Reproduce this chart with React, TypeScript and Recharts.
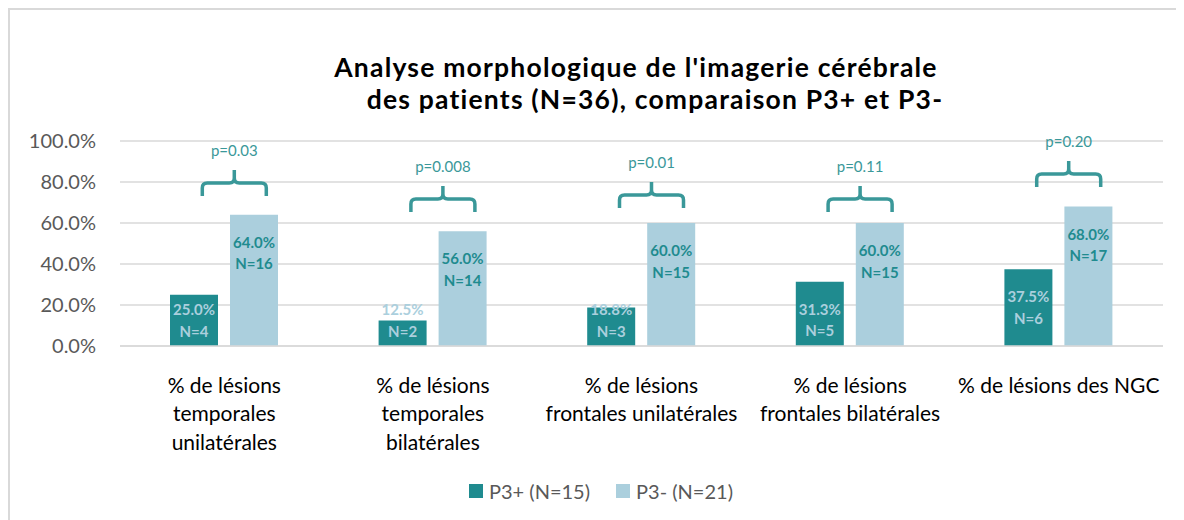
import React from 'react';
import { BarChart, Bar, XAxis, YAxis, CartesianGrid, Legend, LabelList, ReferenceDot } from 'recharts';

const categories = [
  '% de lésions\ntemporales\nunilatérales',
  '% de lésions\ntemporales\nbilatérales',
  '% de lésions\nfrontales unilatérales',
  '% de lésions\nfrontales bilatérales',
  '% de lésions des NGC',
];
const p3Plus = [25.0, 12.5, 18.8, 31.3, 37.5];
const p3Minus = [64.0, 56.0, 60.0, 60.0, 68.0];
const nPlus = [4, 2, 3, 5, 6];
const nMinus = [16, 14, 15, 15, 17];
const pValues = ['p=0.03', 'p=0.008', 'p=0.01', 'p=0.11', 'p=0.20'];
// level (in %) where each bracket's feet sit
const bracketLevels = [73.2, 65.4, 67.3, 65.4, 77.6];
const yTicks = [0, 20, 40, 60, 80, 100];

const DARK = '#1f8b8f';
const LIGHT = '#abcfdd';
const ACCENT = '#3a9899';
const FONT = 'Lato, "Noto Sans", sans-serif';

const data = categories.map((name, i) => ({
  name,
  plus: p3Plus[i],
  minus: p3Minus[i],
  level: bracketLevels[i],
  p: pValues[i],
}));

const makeLabel = (color: string, counts: number[]) => (props: any) => {
  const { x, y, width, height, value, index } = props;
  const cx = x + width / 2;
  const bottom = y + height;
  const line1 = Math.min(y + 27, bottom - 37);
  return (
    <g>
      <text x={cx} y={line1} textAnchor="middle" dominantBaseline="central" fill={color}
        style={{ fontFamily: FONT, fontSize: 15, fontWeight: 700 }}>
        {Number(value).toFixed(1)}%
      </text>
      <text x={cx} y={line1 + 21.5} textAnchor="middle" dominantBaseline="central" fill={color}
        style={{ fontFamily: FONT, fontSize: 15, fontWeight: 700 }}>
        N={counts[index]}
      </text>
    </g>
  );
};

function XTick({ x, y, payload }: any) {
  const lines = String(payload.value).split('\n');
  return (
    <g>
      {lines.map((line, i) => (
        <text key={i} x={x} y={y + 36 + i * 28.5} textAnchor="middle" dominantBaseline="central"
          fill="#000" style={{ fontFamily: FONT, fontSize: 21 }}>
          {line}
        </text>
      ))}
    </g>
  );
}

const Bracket = (p: string) => (props: any) => {
  const { cx, cy } = props;
  const c = cx + 10;
  const h = 32;
  const d = [
    `M${c - h},${cy} L${c - h},${cy - 8} Q${c - h},${cy - 13} ${c - h + 5},${cy - 13}`,
    `L${c - 5},${cy - 13} Q${c},${cy - 13} ${c},${cy - 18} L${c},${cy - 26}`,
    `M${c},${cy - 18} Q${c},${cy - 13} ${c + 5},${cy - 13} L${c + h - 5},${cy - 13}`,
    `Q${c + h},${cy - 13} ${c + h},${cy - 8} L${c + h},${cy}`,
  ].join(' ');
  return (
    <g>
      <path d={d} fill="none" stroke={ACCENT} strokeWidth={3.5} />
      <text x={c} y={cy - 46} textAnchor="middle" dominantBaseline="central" fill={ACCENT}
        style={{ fontFamily: FONT, fontSize: 15 }}>
        {p}
      </text>
    </g>
  );
};

function LegendContent() {
  const items = [
    { label: 'P3+ (N=15)', color: DARK },
    { label: 'P3- (N=21)', color: LIGHT },
  ];
  return (
    <div style={{ display: 'flex', justifyContent: 'center', paddingLeft: 8, fontFamily: FONT, fontSize: 20, color: '#595959' }}>
      {items.map((it) => (
        <div key={it.label} style={{ display: 'flex', alignItems: 'center', margin: '0 13px' }}>
          <span style={{ width: 14, height: 14, background: it.color, marginRight: 6, display: 'inline-block' }} />
          <span>{it.label}</span>
        </div>
      ))}
    </div>
  );
}

const titleStyle: React.CSSProperties = {
  position: 'absolute', width: 800, textAlign: 'center', fontFamily: FONT, fontWeight: 700,
  fontSize: 26.5, letterSpacing: 1.2, lineHeight: '32px', color: '#000', zIndex: 2, whiteSpace: 'nowrap',
};

export default function App() {
  return (
    <div style={{ position: 'relative', width: 1176, height: 512, boxSizing: 'border-box', borderTop: '2px solid #d9d9d9', borderLeft: '2px solid #d9d9d9', background: '#fff' }}>
      <div style={{ ...titleStyle, top: 41, left: 226 }}>
        Analyse morphologique de l'imagerie cérébrale
      </div>
      <div style={{ ...titleStyle, top: 73, left: 245 }}>
        des patients (N=36), comparaison P3+ et P3-
      </div>
      <BarChart width={1174} height={510} data={data} margin={{ top: 131, right: 21, bottom: 64, left: 0 }}
        barSize={48} barGap={12}>
        <CartesianGrid vertical={false} stroke="#d9d9d9" strokeWidth={1.5} />
        <XAxis dataKey="name" interval={0} height={110} tick={<XTick />} tickLine={false} tickSize={0}
          axisLine={{ stroke: '#d9d9d9', strokeWidth: 1.5 }} />
        <YAxis domain={[0, 100]} ticks={yTicks} width={110} axisLine={false} tickLine={false} tickSize={0} tickMargin={24}
          tickFormatter={(v: number) => `${v.toFixed(1)}%`}
          tick={{ fill: '#595959', fontSize: 20, fontFamily: FONT }} />
        <Legend verticalAlign="middle" align="center" layout="horizontal" content={<LegendContent />}
          wrapperStyle={{ top: 469, left: 0, width: '100%' }} />
        <Bar dataKey="plus" name="P3+ (N=15)" fill={DARK} isAnimationActive={false}>
          <LabelList dataKey="plus" content={makeLabel(LIGHT, nPlus)} />
        </Bar>
        <Bar dataKey="minus" name="P3- (N=21)" fill={LIGHT} isAnimationActive={false}>
          <LabelList dataKey="minus" content={makeLabel(DARK, nMinus)} />
        </Bar>
        {data.map((d) => (
          <ReferenceDot key={d.name} x={d.name} y={d.level} r={0} ifOverflow="visible" shape={Bracket(d.p)} />
        ))}
      </BarChart>
    </div>
  );
}
